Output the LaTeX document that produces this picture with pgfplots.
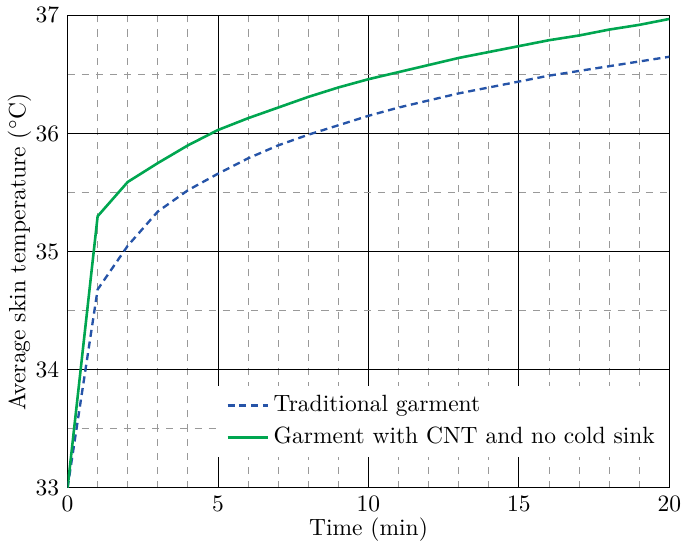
\documentclass[border=0pt]{standalone}
\usepackage{pgfplots}
\pgfplotsset{compat=1.18}
\definecolor{tradblue}{RGB}{38,84,168}
\definecolor{cntgreen}{RGB}{0,166,80}
\begin{document}
\begin{tikzpicture}
\begin{axis}[
    scale only axis,
    width=256pt,
    height=201pt,
    xmin=0, xmax=20,
    ymin=33, ymax=37,
    xtick={0,5,10,15,20},
    ytick={33,34,35,36,37},
    minor x tick num=4,
    minor y tick num=1,
    grid=both,
    major grid style={black, line width=0.4pt},
    minor grid style={gray!80, dashed, line width=0.4pt},
    tick style={draw=none},
    xlabel={Time (min)},
    ylabel={Average skin temperature ($^{\circ}$C)},
    xlabel style={yshift=4pt},
    ylabel style={yshift=-5pt},
    legend style={at={(1,0.065)}, anchor=south east, draw=none, fill=white,
        row sep=1pt, inner xsep=4pt},
    legend cell align=left,
]
\addplot[tradblue, densely dashed, line width=1pt] coordinates {
    (0,33) (1,34.68) (2,35.05) (3,35.34) (4,35.52) (5,35.66) (6,35.79)
    (7,35.90) (8,35.99) (9,36.07) (10,36.15) (11,36.22) (12,36.28)
    (13,36.34) (14,36.39) (15,36.44) (16,36.49) (17,36.53) (18,36.57)
    (19,36.61) (20,36.65)
};
\addplot[cntgreen, line width=1.1pt] coordinates {
    (0,33) (1,35.30) (2,35.59) (3,35.75) (4,35.90) (5,36.03) (6,36.13)
    (7,36.22) (8,36.31) (9,36.39) (10,36.46) (11,36.52) (12,36.58)
    (13,36.64) (14,36.69) (15,36.74) (16,36.79) (17,36.83) (18,36.88)
    (19,36.92) (20,36.97)
};
\legend{Traditional garment, Garment with CNT and no cold sink}
\end{axis}
\end{tikzpicture}
\end{document}
